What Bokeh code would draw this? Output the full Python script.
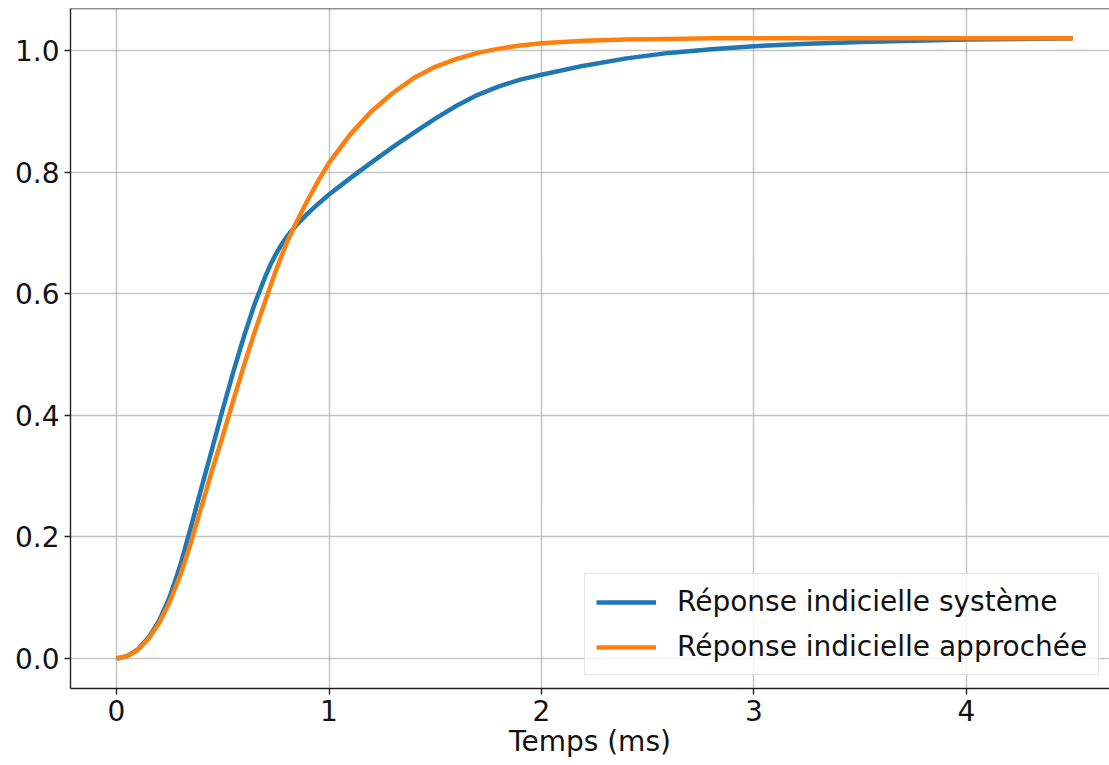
from bokeh.plotting import figure
from bokeh.models import Range1d, FixedTicker, PrintfTickFormatter, Span, Legend, LegendItem
from bokeh.embed import file_html
from bokeh.resources import INLINE

# time (ms)
t_sys = [0, 0.05, 0.1, 0.15, 0.2, 0.25, 0.3, 0.35, 0.4, 0.45, 0.5, 0.55, 0.6, 0.65,
         0.7, 0.725, 0.75, 0.775, 0.8, 0.825, 0.85, 0.9, 0.95, 1.0, 1.1, 1.2, 1.3, 1.4,
         1.5, 1.6, 1.7, 1.8, 1.9, 2.0, 2.2, 2.4, 2.6, 2.8, 3.0, 3.25, 3.5, 3.75, 4.0,
         4.25, 4.5]
y_sys = [0, 0.004, 0.015, 0.034, 0.062, 0.101, 0.153, 0.216, 0.281, 0.345, 0.41, 0.472,
         0.53, 0.583, 0.628, 0.648, 0.665, 0.680, 0.693, 0.704, 0.714, 0.732, 0.748,
         0.763, 0.790, 0.816, 0.841, 0.865, 0.888, 0.909, 0.927, 0.941, 0.952, 0.960,
         0.975, 0.987, 0.996, 1.002, 1.007, 1.011, 1.014, 1.016, 1.018, 1.019, 1.02]

t_app = [0, 0.05, 0.1, 0.15, 0.2, 0.25, 0.3, 0.35, 0.4, 0.45, 0.5, 0.55, 0.6, 0.65,
         0.7, 0.75, 0.8, 0.85, 0.9, 0.95, 1.0, 1.1, 1.2, 1.3, 1.4, 1.5, 1.6, 1.7,
         1.8, 1.9, 2.0, 2.2, 2.4, 2.6, 2.8, 3.0, 3.5, 4.0, 4.5]
y_app = [0, 0.004, 0.014, 0.032, 0.058, 0.093, 0.137, 0.19, 0.25, 0.31, 0.366, 0.425,
         0.482, 0.537, 0.588, 0.638, 0.683, 0.720, 0.754, 0.786, 0.815, 0.862, 0.900,
         0.930, 0.955, 0.973, 0.986, 0.996, 1.003, 1.008, 1.012, 1.016, 1.018, 1.019,
         1.020, 1.02, 1.02, 1.02, 1.02]

x_ticks = [0, 1, 2, 3, 4]
y_ticks = [0.0, 0.2, 0.4, 0.6, 0.8, 1.0]
label_sys = "Réponse indicielle système"
label_app = "Réponse indicielle approchée"
x_label = "Temps (ms)"

FONT = "DejaVu Sans"
FS = "28px"

p = figure(width=1109, height=765, output_backend="svg", toolbar_location=None,
           x_range=Range1d(-0.2165, 4.673), y_range=Range1d(-0.0493, 1.069),
           min_border_left=70, min_border_right=0, min_border_top=8, min_border_bottom=77)
p.outline_line_color = None
p.background_fill_color = "white"
p.border_fill_color = "white"

for ax in (p.xaxis[0], p.yaxis[0]):
    ax.axis_line_color = "#222222"
    ax.axis_line_width = 1.4
    ax.major_tick_line_color = "#222222"
    ax.major_tick_line_width = 1.4
    ax.major_tick_in = 0
    ax.major_tick_out = 6
    ax.minor_tick_line_color = None
    ax.major_label_text_font = FONT
    ax.major_label_text_font_size = FS
    ax.major_label_text_color = "#111111"

p.xaxis.ticker = FixedTicker(ticks=x_ticks)
p.yaxis.ticker = FixedTicker(ticks=y_ticks)
p.yaxis.formatter = PrintfTickFormatter(format="%.1f")
p.xaxis.formatter = PrintfTickFormatter(format="%d")
p.xaxis.major_label_standoff = 5
p.yaxis.major_label_standoff = 5
p.xaxis.axis_label = x_label
p.xaxis.axis_label_text_font = FONT
p.xaxis.axis_label_text_font_size = FS
p.xaxis.axis_label_text_font_style = "normal"
p.xaxis.axis_label_text_color = "#111111"
p.xaxis.axis_label_standoff = 1

p.grid.grid_line_color = "#b0b0b0"
p.grid.grid_line_alpha = 0.75
p.grid.grid_line_width = 1.5

top_spine = Span(location=1.069, dimension="width", line_color="#222222", line_width=1.4)
p.add_layout(top_spine)

r1 = p.line(t_sys, y_sys, line_color="#1f77b4", line_width=4.5, line_join="round")
r2 = p.line(t_app, y_app, line_color="#ff7f0e", line_width=4.5, line_join="round")

legend = Legend(items=[LegendItem(label=label_sys, renderers=[r1]),
                       LegendItem(label=label_app, renderers=[r2])],
                location=(514, 13))
legend.label_text_font = FONT
legend.label_text_font_size = FS
legend.label_text_color = "#111111"
legend.glyph_width = 60
legend.glyph_height = 32
legend.label_height = 32
legend.label_standoff = 21
legend.spacing = 12
legend.padding = 11
legend.margin = 0
legend.border_line_color = "#cccccc"
legend.border_line_width = 1.2
legend.background_fill_color = "white"
legend.background_fill_alpha = 0.8
p.add_layout(legend, "center")

open("out.html", "w").write(file_html(p, INLINE))
